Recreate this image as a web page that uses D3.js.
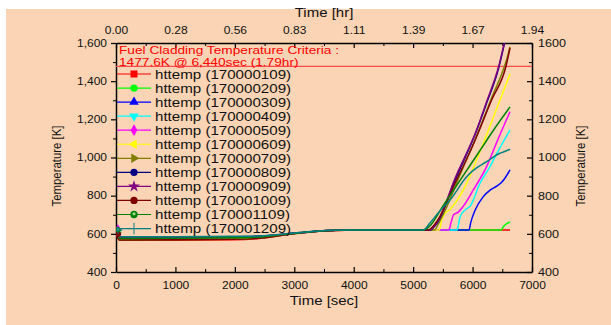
<!DOCTYPE html>
<html>
<head>
<meta charset="utf-8">
<script src="https://cdn.jsdelivr.net/npm/d3@7"></script>
<style>
  html, body { margin: 0; padding: 0; background: #fff; }
  svg { display: block; }
  text { font-family: Arial, "Liberation Sans", sans-serif; }
</style>
</head>
<body>
<div id="chart"></div>
<script>
// series values: [time (s), temperature (K)]
const httemp109 = [[0,600],[60,566],[1000,567],[2000,569],[2400,576],[2800,592],[3100,604],[3400,613],[3700,618],[4000,620],[6630,620]];
const httemp209 = [[0,612],[60,569],[1000,570],[2000,572],[2400,578],[2800,594],[3100,605],[3400,613],[3700,619],[4000,620],[6480,620],[6520,638],[6560,650],[6630,663]];
const httemp309 = [[0,605],[60,572],[1000,573],[2000,575],[2400,580],[2800,595],[3100,605],[3400,614],[3700,619],[4000,620],[5940,620],[5970,660],[6040,722],[6180,795],[6300,830],[6420,853],[6490,870],[6630,935]];
const httemp409 = [[0,610],[60,581],[1000,581],[2000,583],[2400,586],[2800,597],[3100,606],[3400,614],[3700,619],[4000,620],[5740,620],[5765,652],[5790,690],[5870,724],[5960,745],[6125,865],[6293,952],[6450,1045],[6630,1144]];
const httemp509 = [[0,628],[60,575],[1000,576],[2000,578],[2400,582],[2800,595],[3100,605],[3400,614],[3700,619],[4000,620],[5600,620],[5640,662],[5680,700],[5760,714],[5845,745],[6013,830],[6236,952],[6400,1075],[6630,1240]];
const httemp609 = [[0,603],[60,573],[1000,574],[2000,576],[2400,581],[2800,595],[3100,605],[3400,614],[3700,619],[4000,620],[5440,620],[5480,672],[5530,705],[5620,728],[5845,830],[6125,1030],[6405,1255],[6630,1437]];
const httemp709 = [[0,606],[60,577],[1000,578],[2000,580],[2400,584],[2800,596],[3100,606],[3400,614],[3700,619],[4000,620],[5360,620],[5420,650],[5550,730],[5750,880],[6050,1100],[6330,1320],[6560,1500],[6630,1580]];
const httemp809 = [[0,600],[60,583],[1000,583],[2000,585],[2400,588],[2800,598],[3100,607],[3400,615],[3700,619],[4000,620],[5280,620],[5420,665],[5704,880],[6067,1140],[6236,1285],[6440,1470],[6545,1610]];
const httemp909 = [[0,615],[60,579],[1000,580],[2000,582],[2400,586],[2800,597],[3100,606],[3400,614],[3700,619],[4000,620],[5280,620],[5420,670],[5704,890],[6067,1144],[6236,1292],[6440,1478],[6545,1615]];
const httemp1009 = [[0,598],[60,568],[1000,569],[2000,571],[2400,577],[2800,593],[3100,604],[3400,613],[3700,618],[4000,620],[5250,620],[5420,675],[5700,862],[6000,1060],[6320,1301],[6562,1478],[6630,1574]];
const httemp1109 = [[0,622],[60,576],[1000,577],[2000,579],[2400,583],[2800,596],[3100,606],[3400,614],[3700,619],[4000,620],[5170,620],[5283,642],[5500,745],[5800,885],[6100,1025],[6400,1165],[6630,1265]];
const httemp1209 = [[0,618],[60,585],[1000,585],[2000,587],[2400,589],[2800,598],[3100,607],[3400,615],[3700,619],[4000,620],[5170,620],[5283,657],[5450,720],[5620,777],[5900,899],[6000,930],[6236,978],[6461,1022],[6530,1030],[6630,1043]];

const seriesNames = ["httemp (170000109)","httemp (170000209)","httemp (170000309)","httemp (170000409)",
  "httemp (170000509)","httemp (170000609)","httemp (170000709)","httemp (170000809)",
  "httemp (170000909)","httemp (170001009)","httemp (170001109)","httemp (170001209)"];
const seriesValues = [httemp109, httemp209, httemp309, httemp409, httemp509, httemp609,
  httemp709, httemp809, httemp909, httemp1009, httemp1109, httemp1209];
const seriesColors = ["#ff0000","#00ff00","#0000ff","#00ffff","#ff00ff","#ffff00",
  "#808000","#000080","#800080","#800000","#008000","#008080"];
const seriesMarkers = ["square","circle","triUp","triDown","diamond","triLeft",
  "triRight","circle","star","circle","circleHalf","cross"];

const secTicks = [0,1000,2000,3000,4000,5000,6000,7000];
const tempTicks = [400,600,800,1000,1200,1400,1600];
const criteriaTemp = 1477.6;
const criteriaLines = ["Fuel Cladding Temperature Criteria :", "1477.6K @ 6,440sec (1.79hr)"];

const W = 611, H = 325;
const SX = 1.2; // the picture is stretched sideways

const svg = d3.select('#chart').append('svg')
  .attr('width', W).attr('height', H);

svg.append('rect').attr('x', 6).attr('y', 9).attr('width', W - 6).attr('height', H - 9)
  .attr('fill', '#fad4b4');

const x = d3.scaleLinear().domain([0, 7000]).range([116, 532]);
const y = d3.scaleLinear().domain([400, 1600]).range([272, 43]);

function styleAxis(g, size) {
  g.attr('font-family', 'Arial, "Liberation Sans", sans-serif').attr('font-size', size);
  g.select('.domain').attr('stroke', '#000').attr('stroke-width', 1.5);
  g.selectAll('.tick line').attr('stroke', '#000').attr('stroke-width', 1.2);
  g.selectAll('.tick text').attr('fill', '#111').each(function() {
    const t = d3.select(this);
    t.attr('x', (+t.attr('x') || 0) / SX).attr('transform', `scale(${SX},1)`);
  });
}

const minorSec = d3.range(500, 7000, 1000);
const minorTemp = d3.range(500, 1600, 200);

// minor ticks
svg.append('g').attr('transform', 'translate(0,272)')
  .call(d3.axisBottom(x).tickValues(minorSec).tickSize(-3).tickFormat(''))
  .call(g => { g.select('.domain').remove(); g.selectAll('line').attr('stroke', '#000'); });
svg.append('g').attr('transform', 'translate(0,43)')
  .call(d3.axisTop(x).tickValues(minorSec).tickSize(-3).tickFormat(''))
  .call(g => { g.select('.domain').remove(); g.selectAll('line').attr('stroke', '#000'); });
svg.append('g').attr('transform', 'translate(116,0)')
  .call(d3.axisLeft(y).tickValues(minorTemp).tickSize(3).tickFormat(''))
  .call(g => { g.select('.domain').remove(); g.selectAll('line').attr('stroke', '#000'); });
svg.append('g').attr('transform', 'translate(532,0)')
  .call(d3.axisRight(y).tickValues(minorTemp).tickSize(-3).tickFormat(''))
  .call(g => { g.select('.domain').remove(); g.selectAll('line').attr('stroke', '#000'); });

// major axes
svg.append('g').attr('transform', 'translate(0,272)')
  .call(d3.axisBottom(x).tickValues(secTicks).tickSizeInner(-5).tickSizeOuter(0).tickPadding(10).tickFormat(d3.format('d')))
  .call(g => styleAxis(g, 10));
svg.append('g').attr('transform', 'translate(0,43)')
  .call(d3.axisTop(x).tickValues(secTicks).tickSizeInner(-5).tickSizeOuter(0).tickPadding(9)
    .tickFormat(d => (d / 3600).toFixed(2)))
  .call(g => styleAxis(g, 10));
svg.append('g').attr('transform', 'translate(116,0)')
  .call(d3.axisLeft(y).tickValues(tempTicks).tickSizeInner(5).tickSizeOuter(0).tickPadding(4).tickFormat(d3.format(',')))
  .call(g => styleAxis(g, 10));
svg.append('g').attr('transform', 'translate(532,0)')
  .call(d3.axisRight(y).tickValues(tempTicks).tickSizeInner(-5).tickSizeOuter(0).tickPadding(6).tickFormat(d3.format('d')))
  .call(g => styleAxis(g, 10.5));

// axis titles
function hText(px, py, str, size, anchor, color) {
  return svg.append('text')
    .attr('transform', `translate(${px},${py}) scale(${SX},1)`)
    .attr('text-anchor', anchor || 'start')
    .attr('font-size', size)
    .attr('fill', color || '#111')
    .text(str);
}
hText(324, 17, 'Time [hr]', 12.5, 'middle');
hText(324, 305, 'Time [sec]', 12.5, 'middle');
svg.append('text').attr('transform', `translate(61,166) scale(${SX},1) rotate(-90)`)
  .attr('text-anchor', 'middle').attr('font-size', 11.4).attr('fill', '#111').text('Temperature [K]');
svg.append('text').attr('transform', `translate(585,166) scale(${SX},1) rotate(-90)`)
  .attr('text-anchor', 'middle').attr('font-size', 11.4).attr('fill', '#111').text('Temperature [K]');

// plot content
svg.append('clipPath').attr('id', 'plotClip').append('rect')
  .attr('x', 116).attr('y', 43).attr('width', 416).attr('height', 229);
const plot = svg.append('g').attr('clip-path', 'url(#plotClip)');

plot.append('line')
  .attr('x1', x(0)).attr('x2', x(7000))
  .attr('y1', y(criteriaTemp)).attr('y2', y(criteriaTemp))
  .attr('stroke', '#ff4a4a').attr('stroke-width', 1.3);

const line = d3.line().x(d => x(d[0])).y(d => y(d[1])).curve(d3.curveMonotoneX);

function marker(g, kind, color, size) {
  const s = size;
  let p;
  if (kind === 'square') p = g.append('path').attr('d', d3.symbol(d3.symbolSquare, s * s)());
  else if (kind === 'circle' || kind === 'circleHalf') p = g.append('path').attr('d', d3.symbol(d3.symbolCircle, s * s * 0.85)());
  else if (kind === 'diamond') p = g.append('path').attr('d', d3.symbol(d3.symbolDiamond, s * s * 0.8)());
  else if (kind === 'star') p = g.append('path').attr('d', d3.symbol(d3.symbolStar, s * s * 0.9)());
  else if (kind === 'cross') {
    p = g.append('path').attr('d', d3.symbol(d3.symbolPlus, s * s * 0.9)())
      .attr('fill', 'none').attr('stroke', color).attr('stroke-width', 1);
    return p;
  } else {
    const rot = { triUp: 0, triDown: 180, triLeft: -90, triRight: 90 }[kind];
    p = g.append('path').attr('d', d3.symbol(d3.symbolTriangle, s * s * 0.8)())
      .attr('transform', `rotate(${rot})`);
  }
  p.attr('fill', color);
  if (kind === 'circleHalf') {
    g.append('circle').attr('r', s * 0.22).attr('cy', -s * 0.1).attr('fill', '#9be09b');
  }
  return p;
}

seriesValues.forEach((vals, i) => {
  plot.append('path').datum(vals)
    .attr('fill', 'none').attr('stroke', seriesColors[i]).attr('stroke-width', 1.5)
    .attr('d', line);
});
seriesValues.forEach((vals, i) => {
  const g = plot.append('g').attr('transform', `translate(${x(vals[0][0]) + 2},${y(vals[0][1])})`);
  marker(g, seriesMarkers[i], seriesColors[i], 5);
});

// criteria annotation
criteriaLines.forEach((s, i) => hText(119, 54 + i * 11.5, s, 11.4, 'start', '#ff0000'));

// legend
const legend = svg.append('g');
seriesNames.forEach((name, i) => {
  const ly = 74 + i * 14.05;
  legend.append('line').attr('x1', 117).attr('x2', 151).attr('y1', ly).attr('y2', ly)
    .attr('stroke', seriesColors[i]).attr('stroke-width', 1.2);
  const g = legend.append('g').attr('transform', `translate(134,${ly})`);
  marker(g, seriesMarkers[i], seriesColors[i], 7);
  hText(155, ly + 4.5, name, 12.6, 'start', '#111');
});
</script>
</body>
</html>
